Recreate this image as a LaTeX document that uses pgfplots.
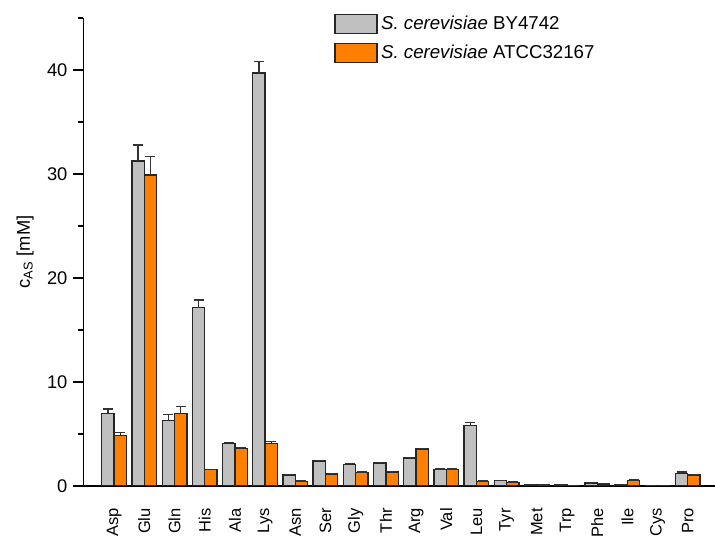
\documentclass[border=0pt]{standalone}
\usepackage{pgfplots}
\pgfplotsset{compat=1.18}
\usepackage{pgfplotstable}
\usepackage{fontspec}
\setmainfont{Liberation Sans}
\definecolor{bargray}{HTML}{C0C0C0}
\definecolor{barorange}{HTML}{FF8000}
\pgfplotstableread{
idx name gray gerr orange oerr
0  Asp 7.0  0.40 4.87 0.30
1  Glu 31.25 1.55 29.9 1.80
2  Gln 6.28 0.58 7.0  0.65
3  His 17.14 0.74 1.57 0.03
4  Ala 4.07 0.13 3.62 0.05
5  Lys 39.7 1.10 4.07 0.20
6  Asn 1.06 0.05 0.45 0.02
7  Ser 2.40 0.05 1.15 0.03
8  Gly 2.08 0.08 1.30 0.03
9  Thr 2.20 0.05 1.35 0.03
10 Arg 2.70 0.03 3.55 0.05
11 Val 1.60 0.03 1.60 0.03
12 Leu 5.80 0.30 0.45 0.02
13 Tyr 0.50 0.03 0.35 0.02
14 Met 0.15 0.02 0.08 0.01
15 Trp 0.12 0.02 0.05 0.01
16 Phe 0.30 0.02 0.20 0.01
17 Ile 0.15 0.02 0.55 0.02
18 Cys 0.05 0.01 0.05 0.01
19 Pro 1.20 0.15 1.05 0.03
}\datatable
\begin{document}
\begin{tikzpicture}
\begin{axis}[
  name=ax,
  scale only axis,
  width=379pt, height=280.8pt,
  font=\fontsize{10.5}{12.6}\selectfont,
  /pgf/number format/assume math mode=true,
  xmin=-1.02, xmax=19.9,
  ymin=0, ymax=45,
  axis x line*=bottom, axis y line*=left,
  axis line style={line width=0.9pt, -},
  ybar=0pt, bar width=7.4pt,
  xtick=data,
  xticklabels from table={\datatable}{name},
  xticklabel style={rotate=90, anchor=east, inner sep=0pt, font=\fontsize{9.9}{11}\selectfont},
  xticklabel shift=7.2pt,
  yticklabel style={font=\fontsize{11}{13}\selectfont},
  x tick style={draw=none},
  ytick={0,10,20,30,40},
  minor ytick={5,15,25,35,45},
  tick align=outside,
  y tick style={line width=0.8pt, black},
  major tick length=6pt, minor tick length=3pt,
  ylabel={c\textsubscript{AS} [mM]},
  ylabel style={at={(axis description cs:-0.092,0.5)}, anchor=center, font=\fontsize{11}{13}\selectfont},
  error bars/y dir=plus, error bars/y explicit,
  error bars/error bar style={line width=0.8pt, black!80},
  error bars/error mark options={rotate=90, mark size=3pt, line width=0.8pt, black!80},
  legend style={at={(rel axis cs:0.397,1.012)}, anchor=north west, draw=none, fill=none,
    inner sep=0pt, row sep=3.6pt, nodes={anchor=west, inner sep=2pt}, font=\fontsize{11.2}{13}\selectfont},
  legend cell align=left,
  legend image code/.code={\draw[#1] (0pt,-5.7pt) rectangle (25.2pt,5.7pt);},
]
\addplot[fill=bargray, draw=black!85, line width=0.8pt] table[x=idx, y=gray, y error=gerr] {\datatable};
\addplot[fill=barorange, draw=black!85, line width=0.8pt] table[x=idx, y=orange, y error=oerr] {\datatable};
\legend{\textit{S. cerevisiae} BY4742, \textit{S. cerevisiae} ATCC32167}
\end{axis}
\pgfresetboundingbox
\path ([shift={(-50pt,-33pt)}]ax.south west) rectangle ([shift={(0pt,10.8pt)}]ax.north east);
\end{tikzpicture}
\end{document}
